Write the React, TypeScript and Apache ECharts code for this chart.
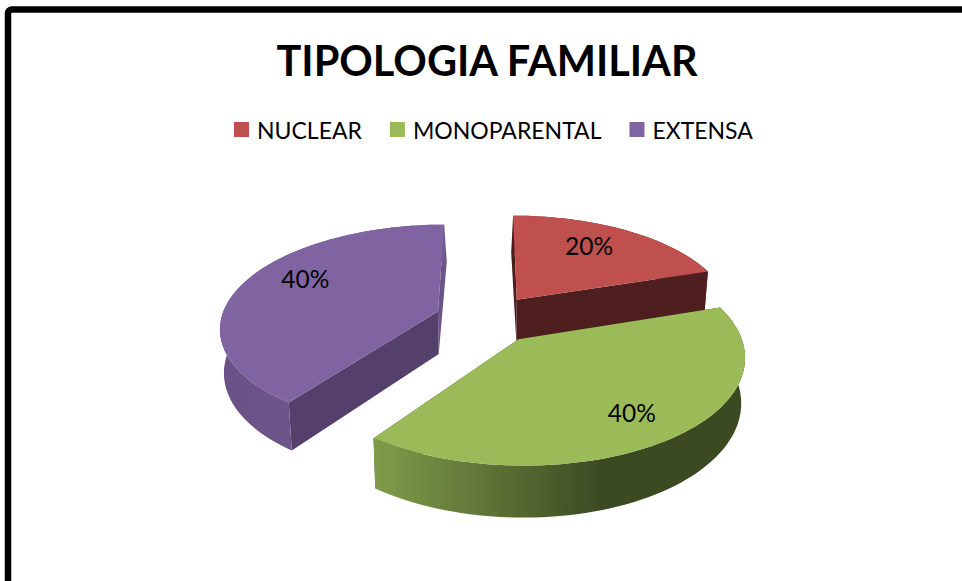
import React, { useEffect, useRef } from "react";
import * as echarts from "echarts";

const categories = ["NUCLEAR", "MONOPARENTAL", "EXTENSA"];
const values = [20, 40, 40];
const topColors = ["#c0504d", "#9bbb59", "#8064a2"];
const cutColors = ["#4f1f1f", "#3e4a24", "#54406a"];
const wallStops: string[][] = [
  ["#4f1f1f", "#4f1f1f"],
  ["#7f9c4a", "#3c4a22"],
  ["#6a5286", "#745c93"],
];
const sliverColors = ["#4a1c1c", "#3e4a24", "#6b5488"];
const sliverShift = [-1.5, 0, 2];
const labelOffsets = [[-11, -1], [2, 2], [14, -11]];
const drawOrder = [2, 0, 1];

const CX = 487, CY = 319, A = 217, B = 101.5, P = 0.145, DEPTH = 43, EXPLODE = 0.24, SHRINK = 0.015;
const total = values.reduce((s, v) => s + v, 0);

function project(X: number, Y: number, z: number, shift = 0): number[] {
  const s = 1 / (1 - P * Y);
  const sx = CX + A * X * s;
  const sy = CY + B * Y * s;
  return [sx + z * ((CX - sx) * SHRINK + shift), sy + z * DEPTH * s];
}

function sliceItem(index: number, value: number) {
  const before = values.slice(0, index).reduce((s, v) => s + v, 0);
  const a0 = (before / total) * Math.PI * 2;
  const a1 = a0 + (value / total) * Math.PI * 2;
  const mid = (a0 + a1) / 2;
  const ox = Math.sin(mid) * EXPLODE;
  const oy = -Math.cos(mid) * EXPLODE;
  const rim = (a: number, r = 1): number[] => [ox + Math.sin(a) * r, oy - Math.cos(a) * r];
  const n = Math.ceil((a1 - a0) / (Math.PI / 90));
  const angles: number[] = [];
  for (let i = 0; i <= n; i++) angles.push(a0 + ((a1 - a0) * i) / n);
  const topArc = angles.map((a) => { const p = rim(a); return project(p[0], p[1], 0); });
  const lowArc = angles.map((a) => { const p = rim(a); return project(p[0], p[1], 1); });
  const apex = project(ox, oy, 0);
  const apexLow = project(ox, oy, 1);
  // the face that is seen in full is the end of the slice nearest the viewer; the other is a thin sliver
  const mainAngle = index === 2 ? a0 : a1;
  const sliverAngle = index === 2 ? a1 : a0;
  const sm = rim(mainAngle), ss = rim(sliverAngle);
  const xs = lowArc.map((p) => p[0]);
  const minX = Math.min(...xs);
  const maxX = Math.max(...xs);
  const stops = wallStops[index];
  const wallFill = {
    type: "linear", x: minX, y: 0, x2: maxX, y2: 0, global: true,
    colorStops: index === 1
      ? [{ offset: 0, color: stops[0] }, { offset: 0.62, color: stops[1] }, { offset: 1, color: stops[1] }]
      : [{ offset: 0, color: stops[0] }, { offset: 1, color: stops[1] }],
  };
  const lab = rim(mid, 0.75);
  const labP = project(lab[0], lab[1], 0);
  return {
    type: "group",
    children: [
      { type: "polygon", shape: { points: [project(ss[0], ss[1], 0), apex, apexLow, project(ss[0], ss[1], 1, sliverShift[index])] }, style: { fill: sliverColors[index] } },
      { type: "polygon", shape: { points: [apex, project(sm[0], sm[1], 0), project(sm[0], sm[1], 1), apexLow] }, style: { fill: cutColors[index] } },
      { type: "polygon", shape: { points: [...topArc, ...lowArc.slice().reverse()] }, style: { fill: wallFill } },
      { type: "polygon", shape: { points: [apex, ...topArc] }, style: { fill: topColors[index] } },
      {
        type: "text",
        style: {
          text: Math.round((value / total) * 100) + "%",
          x: labP[0] + labelOffsets[index][0],
          y: labP[1] + labelOffsets[index][1],
          align: "center", verticalAlign: "middle",
          fontFamily: "Lato", fontSize: 24.5, fill: "#000",
        },
      },
    ],
  };
}

export default function App() {
  const ref = useRef<HTMLDivElement>(null);
  useEffect(() => {
    const chart = echarts.init(ref.current!, null, { renderer: "svg" });
    chart.setOption({
      animation: false,
      backgroundColor: "#fff",
      title: {
        text: "TIPOLOGIA FAMILIAR",
        left: 482, top: 34, textAlign: "center",
        textStyle: { fontFamily: "Lato", fontWeight: "bold", fontSize: 41.5, color: "#000" },
      },
      legend: {
        data: categories,
        left: 234, top: 118, padding: 0,
        icon: "rect", itemWidth: 15, itemHeight: 15, itemGap: 28,
        selectedMode: false,
        textStyle: { fontFamily: "Lato", fontSize: 23, color: "#000", padding: [0, 0, 0, 3] },
      },
      graphic: [{
        type: "rect",
        shape: { x: 8, y: 9.5, width: 1200, height: 900, r: 4 },
        style: { fill: "none", stroke: "#000", lineWidth: 6.5 },
      }],
      series: drawOrder.map((i) => ({
        type: "custom",
        name: categories[i],
        coordinateSystem: "none",
        itemStyle: { color: topColors[i] },
        data: [[values[i]]],
        renderItem: (_p: any, api: any) => sliceItem(i, api.value(0)),
      })),
    });
    return () => chart.dispose();
  }, []);
  return <div ref={ref} style={{ position: "absolute", left: 0, top: 0, width: 962, height: 581 }} />;
}
